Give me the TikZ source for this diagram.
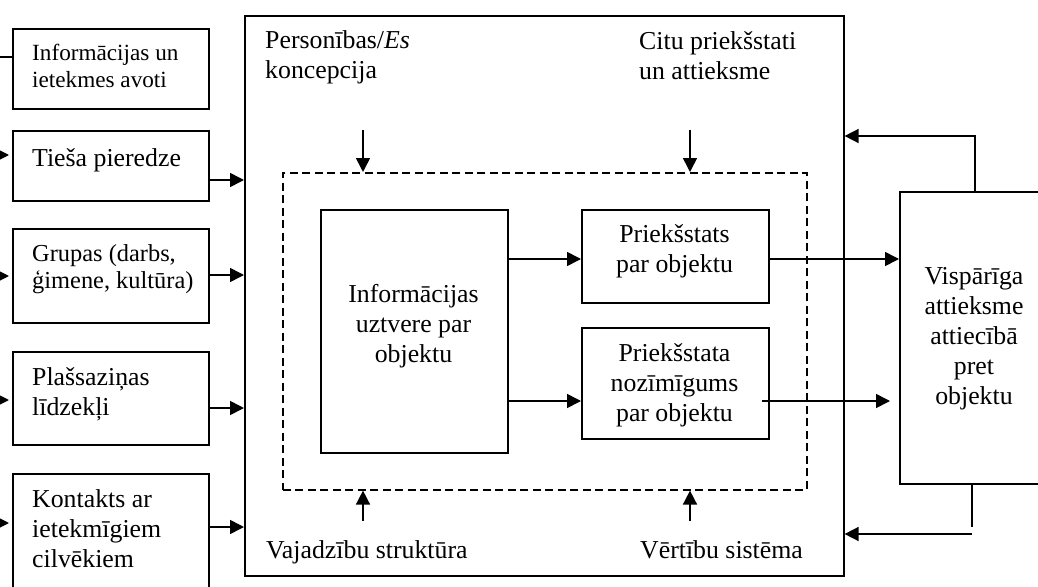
\documentclass[tikz,border=0pt]{standalone}
\usepackage{fontspec}
\setmainfont{Liberation Serif}
\usetikzlibrary{arrows.meta,calc}
\newcommand{\txtnormal}{\fontsize{25.8}{30}\selectfont}
\newcommand{\txtsmall}{\fontsize{23.2}{27}\selectfont}
\newcommand{\txtmid}{\fontsize{24.4}{27}\selectfont}

\begin{document}
\begin{tikzpicture}[x=1pt,y=-1pt,
  box/.style={draw,line width=1.6pt,rectangle,inner sep=0pt,anchor=north west},
  dashbox/.style={box,dash pattern=on 8pt off 4.5pt},
  lbl/.style={inner sep=0pt,anchor=base west,align=left,font=\txtnormal},
  ctr/.style={inner sep=0pt,anchor=base,align=center,font=\txtnormal},
  ln/.style={line width=1.6pt},
  arr/.style={line width=1.6pt,-{Triangle[length=14pt,width=14pt]}},
]
\useasboundingbox (0,0) rectangle (1038,586);
\clip (0,0) rectangle (1038,586);

% sources on the left
\node[box,minimum width=196,minimum height=80]  (b1) at (12,28)  {};
\node[box,minimum width=196,minimum height=70]  (b2) at (12,130) {};
\node[box,minimum width=196,minimum height=94]  (b3) at (12,228) {};
\node[box,minimum width=196,minimum height=93]  (b4) at (12,351) {};
\node[box,minimum width=196,minimum height=130] (b5) at (12,473) {};

% (multi-line texts are placed by the baseline of their last line)
\node[lbl,font=\txtsmall] (t1) at (32,87)  {Informācijas un\\ietekmes avoti};
\node[lbl]                (t2) at (32,166) {Tieša pieredze};
\node[lbl,font=\txtmid]   (t3) at (32,288) {Grupas (darbs,\\ģimene, kultūra)};
\node[lbl]                (t4) at (32,415) {Plašsaziņas\\līdzekļi};
\node[lbl]                (t5) at (32,567) {Kontakts ar\\ietekmīgiem\\cilvēkiem};

% the attitude system
\node[box,minimum width=599,minimum height=560] (big) at (244,15) {};
\node[dashbox,minimum width=524,minimum height=317] (dash) at (282,172) {};
\node[box,minimum width=187,minimum height=243] (ip) at (320,209) {};
\node[box,minimum width=187,minimum height=93]  (p1) at (581,209) {};
\node[box,minimum width=187,minimum height=111] (p2) at (581,327) {};
\node[box,minimum width=150,minimum height=292] (V)  at (899,191) {};

\node[lbl] (tPe) at (265,78)  {Personības/\textit{Es}\\koncepcija};
\node[lbl] (tCi) at (639,79)  {Citu priekšstati\\un attieksme};
\node[lbl] (tVa) at (266,558) {Vajadzību struktūra};
\node[lbl] (tVe) at (640,558) {Vērtību sistēma};

\node[ctr] (tip) at (413.5,362) {Informācijas\\uztvere par\\objektu};
\node[ctr] (tp1) at (674.5,272) {Priekšstats\\par objektu};
\node[ctr] (tp2) at (674.5,421) {Priekšstata\\nozīmīgums\\par objektu};
\node[ctr] (tV)  at (974,404)   {Vispārīga\\attieksme\\attiecībā\\pret\\objektu};

% incoming stubs at the left edge
\coordinate (l1) at (-10,57);
\coordinate (l2) at (-20,155);
\coordinate (l3) at (-20,276);
\coordinate (l4) at (-20,400);
\coordinate (l5) at (-20,523);
\draw[ln]  (l1) -- (b1.west |- l1);
\draw[arr] (l2) -- ($(b2.west |- l2)+(-3,0)$);
\draw[arr] (l3) -- ($(b3.west |- l3)+(-3,0)$);
\draw[arr] (l4) -- ($(b4.west |- l4)+(-3,0)$);
\draw[arr] (l5) -- ($(b5.west |- l5)+(-3,0)$);

% sources into the system
\coordinate (r2) at (0,180);
\coordinate (r3) at (0,275);
\coordinate (r4) at (0,408);
\coordinate (r5) at (0,527);
\draw[arr] (b2.east |- r2) -- (big.west |- r2);
\draw[arr] (b3.east |- r3) -- (big.west |- r3);
\draw[arr] (b4.east |- r4) -- (big.west |- r4);
\draw[arr] (b5.east |- r5) -- (big.west |- r5);

% inner flow
\coordinate (m1) at (0,259);
\coordinate (m2) at (0,401);
\draw[arr] (ip.east |- m1) -- (p1.west |- m1);
\draw[arr] (ip.east |- m2) -- (p2.west |- m2);
\draw[arr] (p1.east |- m1) -- (V.west |- m1);
\draw[arr] ($(p2.east |- m2)+(-8,0)$) -- ($(V.west |- m2)+(-9,0)$);

% influences on the dashed core
\coordinate (u1) at (363,130);
\coordinate (u2) at (690,130);
\coordinate (d1) at (363,521);
\coordinate (d2) at (690,521);
\draw[arr] (u1) -- (u1 |- dash.north);
\draw[arr] (u2) -- (u2 |- dash.north);
\draw[arr] (d1) -- (d1 |- dash.south);
\draw[arr] (d2) -- (d2 |- dash.south);

% feedback from the overall attitude
\coordinate (f1) at (0,136);
\coordinate (f2) at (0,527);
\coordinate (f3) at (0,534);
\coordinate (vs) at ($(V.south)+(-3,0)$);
\draw[arr] (V.north) |- (big.east |- f1);
\draw[ln]  (vs) -- (vs |- f2);
\draw[arr] (vs |- f3) -- (big.east |- f3);
\end{tikzpicture}
\end{document}
